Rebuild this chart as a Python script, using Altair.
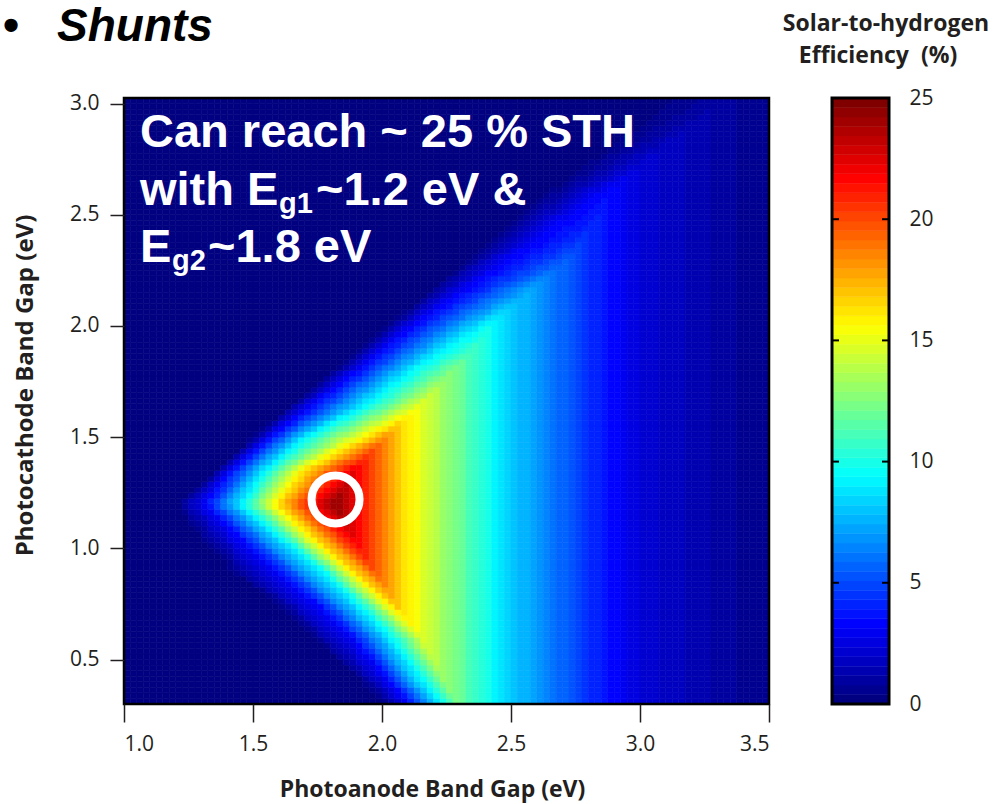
import numpy as np
import pandas as pd
import altair as alt

alt.data_transformers.disable_max_rows()

# ---------------- values ----------------
anode_ticks = [1.0, 1.5, 2.0, 2.5, 3.0, 3.5]
cathode_ticks = [0.5, 1.0, 1.5, 2.0, 2.5, 3.0]
colorbar_ticks = [0, 5, 10, 15, 20, 25]
colorbar_inner_ticks = [5, 10, 15, 20]

# vertical bands on the right: efficiency per photoanode band gap
band_gap = [1.80, 1.85, 1.90, 1.95, 2.00, 2.05, 2.10, 2.15, 2.20, 2.25, 2.30,
            2.35, 2.40, 2.45, 2.50, 2.55, 2.60, 2.65, 2.70, 2.75, 2.80, 2.85,
            2.90, 2.95, 3.00, 3.05, 3.10, 3.15, 3.20, 3.25, 3.30, 3.35, 3.40,
            3.45, 3.50]
band_eff = [25.0, 23.5, 22.0, 20.5, 19.0, 17.5, 16.0, 15.0, 14.0, 13.0, 12.0,
            11.0, 10.0, 9.1, 8.3, 7.6, 7.0, 6.3, 5.7, 5.0, 4.4, 3.8,
            3.3, 2.8, 2.4, 2.1, 1.9, 1.7, 1.5, 1.3, 1.1, 0.9, 0.7,
            0.6, 0.5]

# wedge on the left: photoanode gap where each efficiency level is reached,
# read on a set of photocathode-gap rows
level_eff = [0.0, 3.1, 9.4, 15.6, 19.0, 22.0, 24.5]
row_gap = [0.30, 0.45, 0.60, 0.75, 0.90, 1.05, 1.20, 1.35, 1.50, 1.65, 1.80,
           2.00, 2.20, 2.40, 2.60, 2.80, 3.00]
level_0_x = [2.01, 1.86, 1.71, 1.56, 1.40, 1.28, 1.19, 1.35, 1.49, 1.64, 1.80,
             2.01, 2.21, 2.42, 2.62, 2.83, 3.03]
level_1_x = [2.10, 1.99, 1.88, 1.74, 1.58, 1.44, 1.31, 1.41, 1.56, 1.73, 1.90,
             2.11, 2.36, 2.61, 2.84, 3.25, 3.80]
level_2_x = [2.23, 2.13, 2.04, 1.91, 1.77, 1.61, 1.46, 1.55, 1.71, 1.95, 2.12,
             2.40, 2.78, 3.45, 3.80, 4.00, 4.20]
level_3_x = [2.38, 2.27, 2.17, 2.02, 1.87, 1.72, 1.58, 1.68, 1.92, 2.18, 2.43,
             2.89, 3.60, 3.80, 4.00, 4.20, 4.40]
level_4_x = [2.50, 2.38, 2.27, 2.10, 1.95, 1.80, 1.66, 1.78, 2.03, 2.35, 2.67,
             3.60, 3.80, 4.00, 4.20, 4.40, 4.60]
level_5_x = [2.60, 2.48, 2.37, 2.20, 2.03, 1.88, 1.74, 1.88, 2.15, 2.52, 2.93,
             3.80, 4.00, 4.20, 4.40, 4.60, 4.80]
level_6_x = [2.70, 2.58, 2.47, 2.30, 2.12, 1.96, 1.82, 1.97, 2.28, 2.72, 3.50,
             4.00, 4.20, 4.40, 4.60, 4.80, 5.00]

best_anode = [1.82]
best_cathode = [1.22]

# ---------------- build the table the chart needs ----------------
levels_x = [level_0_x, level_1_x, level_2_x, level_3_x, level_4_x, level_5_x, level_6_x]
x_edges = np.linspace(1.0, 3.5, 101)
y_edges = np.linspace(0.3, 3.025, 110)
xc = (x_edges[:-1] + x_edges[1:]) / 2
cap = np.interp(xc, band_gap, band_eff, left=25.0)
recs = []
for j in range(len(y_edges) - 1):
    yc = (y_edges[j] + y_edges[j + 1]) / 2
    xs = [np.interp(yc, row_gap, lx) for lx in levels_x]
    vals = np.minimum(np.interp(xc, xs, level_eff), cap)
    for i in range(len(xc)):
        recs.append((round(x_edges[i], 4), round(x_edges[i + 1], 4),
                     round(y_edges[j], 4), round(y_edges[j + 1], 4),
                     round(float(vals[i]), 3)))
heat_df = pd.DataFrame(recs, columns=["x0", "x1", "y0", "y1", "eff"])

n_col = 64
cb_df = pd.DataFrame({
    "lo": [25 * i / n_col for i in range(n_col)],
    "hi": [25 * (i + 1) / n_col for i in range(n_col)],
})
cb_df["eff"] = (cb_df["lo"] + cb_df["hi"]) / 2


def jet(t):
    r = np.clip(1.5 - abs(4 * t - 3), 0, 1)
    g = np.clip(1.5 - abs(4 * t - 2), 0, 1)
    b = np.clip(1.5 - abs(4 * t - 1), 0, 1)
    return "#%02x%02x%02x" % (int(round(r * 255)), int(round(g * 255)), int(round(b * 255)))


jet64 = [jet(t) for t in np.linspace(0, 1, n_col)]
cscale = alt.Scale(type="quantize", domain=[0, 25], range=jet64, nice=False)

W, H = 645, 606
INK = "#231f20"
xscale = alt.Scale(domain=[1.0, 3.5], nice=False, zero=False)
yscale = alt.Scale(domain=[0.3, 3.025], nice=False, zero=False)

x_axis = alt.Axis(values=anode_ticks, format=".1f", tickSize=18, tickWidth=1.5,
                  tickColor=INK, labelFontSize=21, labelPadding=11, labelColor=INK,
                  labelFont="Open Sans", domain=False, grid=False, zindex=1,
                  title="Photoanode Band Gap (eV)", titleFontSize=23,
                  titleFontWeight="bold", titleColor=INK, titleFont="Open Sans",
                  titleX=308, titleY=92, titleBaseline="alphabetic")
y_axis = alt.Axis(values=cathode_ticks, format=".1f", tickSize=14, tickWidth=1.5,
                  tickColor=INK, labelFontSize=21, labelPadding=11, labelColor=INK,
                  labelFont="Open Sans", domain=False, grid=False, zindex=1,
                  title="Photocathode Band Gap (eV)", titleFontSize=24,
                  titleFontWeight="bold", titleColor=INK, titleFont="Open Sans",
                  titleX=-92, titleY=287, titleAngle=270, titleBaseline="alphabetic")

heat = alt.Chart(heat_df).mark_rect(strokeWidth=0.6).encode(
    x=alt.X("x0:Q", scale=xscale, axis=x_axis),
    x2="x1:Q",
    y=alt.Y("y0:Q", scale=yscale, axis=y_axis),
    y2="y1:Q",
    fill=alt.Fill("eff:Q", scale=cscale, legend=None),
    stroke=alt.Stroke("eff:Q", scale=cscale, legend=None),
)

ring = alt.Chart(pd.DataFrame({"gx": best_anode, "gy": best_cathode})).mark_point(
    shape="circle", filled=False, size=2304, strokeWidth=8, color="white", opacity=1
).encode(
    x=alt.X("gx:Q", scale=xscale),
    y=alt.Y("gy:Q", scale=yscale),
)

one = alt.Data(values=[{}])


def label(txt, x, y, size, weight="bold", style="normal", font="Liberation Sans",
          color="white", align="left"):
    return alt.Chart(one).mark_text(
        text=txt, font=font, fontSize=size, fontWeight=weight, fontStyle=style,
        color=color, align=align, baseline="alphabetic"
    ).encode(x=alt.value(x), y=alt.value(y))


big, sub = 47, 29
texts = [
    label("Can reach ~ 25 % STH", 16, 49, big),
    label("with E", 16, 107, big),
    label("g1", 155, 115, sub),
    label("~1.2 eV &", 192, 107, big),
    label("E", 16, 164, big),
    label("g2", 48, 172, sub),
    label("~1.8 eV", 84, 164, big),
    label("•", -121, -57, 46, color="black"),
    label("Shunts", -67, -57, 46, style="italic", color="black"),
    label("Solar-to-hydrogen", 762, -67, 23, font="Open Sans", color=INK, align="center"),
    label("Efficiency\u00a0\u00a0(%)", 754, -35, 23, font="Open Sans", color=INK, align="center"),
]

frame = alt.Chart(one).mark_rect(filled=False, stroke="black", strokeWidth=2.5).encode(
    x=alt.value(0), x2=alt.value(W), y=alt.value(0), y2=alt.value(H)
)

main = alt.layer(heat, ring, frame, *texts)

cb_left, cb_right = 708, 765
cb_scale = alt.Scale(domain=[0, 25], nice=False)
cb_rects = alt.Chart(cb_df).mark_rect(strokeWidth=0.5).encode(
    x=alt.value(cb_left), x2=alt.value(cb_right),
    y=alt.Y("lo:Q", scale=cb_scale,
            axis=alt.Axis(orient="right", offset=cb_right - W, values=colorbar_ticks,
                          ticks=False, domain=False, grid=False, labelPadding=20,
                          labelFontSize=21, labelColor=INK, labelFont="Open Sans",
                          title=None)),
    y2="hi:Q",
    fill=alt.Fill("eff:Q", scale=cscale, legend=None),
    stroke=alt.Stroke("eff:Q", scale=cscale, legend=None),
)
tick_df = pd.DataFrame({"v": colorbar_inner_ticks})
cb_ticks_r = alt.Chart(tick_df).mark_rule(color="black", strokeWidth=2).encode(
    x=alt.value(cb_right - 7), x2=alt.value(cb_right), y=alt.Y("v:Q", scale=cb_scale)
)
cb_ticks_l = alt.Chart(tick_df).mark_rule(color="black", strokeWidth=2).encode(
    x=alt.value(cb_left), x2=alt.value(cb_left + 7), y=alt.Y("v:Q", scale=cb_scale)
)
cb_border = alt.Chart(one).mark_rect(filled=False, stroke="black", strokeWidth=3).encode(
    x=alt.value(cb_left), x2=alt.value(cb_right), y=alt.value(0), y2=alt.value(H)
)
cbar = alt.layer(cb_rects, cb_ticks_r, cb_ticks_l, cb_border)

chart = alt.layer(main, cbar).resolve_scale(y="independent").properties(
    width=W, height=H,
    padding={"left": 124, "top": 98, "right": 996 - 124 - W, "bottom": 804 - 98 - H},
    autosize=alt.AutoSizeParams(type="none"),
    background="white",
).configure_view(stroke=None)

chart.save("out.html", embed_options={"renderer": "svg", "actions": False})
